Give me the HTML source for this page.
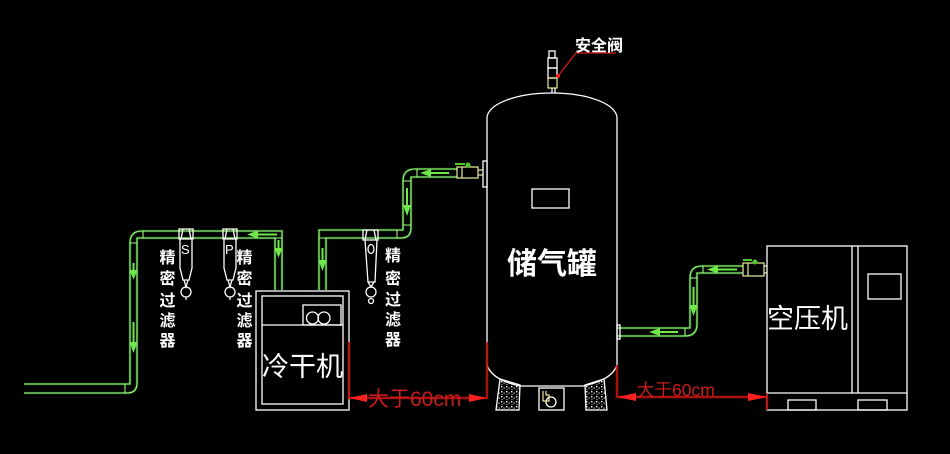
<!DOCTYPE html>
<html><head><meta charset="utf-8"><style>
html,body{margin:0;padding:0;background:#000;}
svg{display:block;}
</style></head><body>
<svg width="950" height="454" viewBox="0 0 950 454" xmlns="http://www.w3.org/2000/svg">
<defs>
<pattern id="dots" width="5" height="5" patternUnits="userSpaceOnUse">
<rect x="1" y="1" width="1.4" height="1.4" fill="#fff"/>
<rect x="3.5" y="2.5" width="1.2" height="1.2" fill="#ddd"/>
<rect x="1.5" y="4" width="1" height="1" fill="#bbb"/>
</pattern>
</defs>
<rect width="950" height="454" fill="#000"/>

<!-- ===== GREEN PIPES (glow underlay) ===== -->
<g fill="none" stroke="#2f8a1e" stroke-width="2.6" opacity="0.6">
<path d="M24,384 H130 V243 Q130,231 142,231 H282 V290"/>
<path d="M24,393 H127 Q137,393 137,383 V238 H275 V290"/>
<path d="M319,290 V230 H403 V181 Q403,169 415,169 H457"/>
<path d="M326,290 V238 H401 Q411,238 411,228 V177 H457"/>
<path d="M617,328 H690 V278 Q690,266 702,266 H743"/>
<path d="M617,336 H685 Q697,336 697,324 V273 H743"/>
</g>
<g fill="none" stroke="#a0f884" stroke-width="1.1">
<path d="M24,384 H130 V243 Q130,231 142,231 H282 V290"/>
<path d="M24,393 H127 Q137,393 137,383 V238 H275 V290"/>
<path d="M319,290 V230 H403 V181 Q403,169 415,169 H457"/>
<path d="M326,290 V238 H401 Q411,238 411,228 V177 H457"/>
<path d="M617,328 H690 V278 Q690,266 702,266 H743"/>
<path d="M617,336 H685 Q697,336 697,324 V273 H743"/>
<!-- joint ticks -->
<path d="M125,384 V393 M130,243 H137 M143,231 V238 M275,238 H282"/>
<path d="M319,238 H326 M397,230 V238 M403,225 H411 M403,181 H411 M417,169 V177"/>
<path d="M685,328 V336 M690,278 H697 M703,266 V273"/>
</g>
<!-- pipe arrows -->
<g stroke="#6fe84a" stroke-width="2" fill="#6fe84a">
<line x1="256" y1="234.5" x2="277" y2="234.5"/><polygon points="250,234.5 257,232 257,237"/>
<line x1="278.5" y1="240" x2="278.5" y2="250"/><polygon points="278.5,255 276,249 281,249"/>
<line x1="133.5" y1="263" x2="133.5" y2="272"/><polygon points="133.5,277 131,271 136,271"/>
<line x1="133.5" y1="322" x2="133.5" y2="344"/><polygon points="133.5,350 131,343 136,343"/>
<line x1="322.5" y1="248" x2="322.5" y2="262"/><polygon points="322.5,268 320,261 325,261"/>
<line x1="429" y1="173" x2="449" y2="173"/><polygon points="423,173 430,170.5 430,175.5"/>
<line x1="407" y1="188" x2="407" y2="207"/><polygon points="407,213 404.5,206 409.5,206"/>
<line x1="716" y1="269.5" x2="737" y2="269.5"/><polygon points="710,269.5 717,267 717,272"/>
<line x1="693.5" y1="287" x2="693.5" y2="307"/><polygon points="693.5,313 691,306 696,306"/>
<line x1="658" y1="332" x2="678" y2="332"/><polygon points="652,332 659,329.5 659,334.5"/>
</g>

<!-- ===== VALVES ===== -->
<g fill="none" stroke="#ecec9c" stroke-width="1.2">
<rect x="457" y="167" width="21" height="11"/>
<line x1="462" y1="167" x2="462" y2="178"/>
<line x1="478" y1="170" x2="483" y2="170"/><line x1="478" y1="175" x2="483" y2="175"/>
<rect x="743" y="263" width="21" height="13"/>
<line x1="748" y1="263" x2="748" y2="276"/>
<line x1="764" y1="266" x2="767" y2="266"/><line x1="764" y1="273" x2="767" y2="273"/>
</g>
<g stroke="#4fc82e" stroke-width="2" fill="#4fc82e">
<line x1="455" y1="164" x2="465" y2="164"/><circle cx="468" cy="165" r="1.5"/>
<line x1="743" y1="260" x2="752" y2="260"/><circle cx="755" cy="262" r="1.5"/>
</g>

<!-- ===== WHITE LINEWORK ===== -->
<g fill="none" stroke="#fff" stroke-width="1.3">
<!-- tank -->
<path d="M487,365 V118 A65,25 0 0 1 617,118 V365"/>
<path d="M487,365 Q492,380 520,386 H583 Q612,380 617,365"/>
<rect x="532" y="189" width="37" height="19"/>
<rect x="483" y="161" width="4" height="26" fill="#000"/>
<rect x="617" y="325" width="3" height="14"/>
<!-- safety valve -->
<rect x="549" y="51" width="6" height="7"/>
<rect x="548" y="58" width="9" height="10"/>
<rect x="548" y="68" width="9" height="10"/>
<line x1="552" y1="88" x2="552" y2="93"/><line x1="555" y1="88" x2="555" y2="93"/>
<!-- dryer -->
<rect x="256" y="291" width="93" height="119"/>
<rect x="262" y="296" width="81" height="108"/>
<line x1="262" y1="325" x2="343" y2="325"/>
<rect x="303" y="305" width="38" height="20"/>
<circle cx="312.5" cy="318" r="6"/><circle cx="324" cy="318" r="6"/>
<!-- compressor -->
<rect x="767" y="246" width="140" height="164"/>
<line x1="852" y1="246" x2="852" y2="393"/><line x1="858" y1="246" x2="858" y2="393"/>
<line x1="767" y1="393" x2="907" y2="393"/>
<rect x="788" y="400" width="28" height="10"/>
<rect x="858" y="400" width="29" height="10"/>
<rect x="868" y="274" width="33" height="25"/>
<!-- filters S & P -->
<path d="M179,229 H193 V239 H179 Z M183,229 L181,239 M189,229 L191,239"/>
<path d="M180,239 V268 L183,280 H189 L192,268 V239"/>
<path d="M184,280 L186,287 L188,280"/><circle cx="186" cy="292" r="5"/><line x1="186" y1="297" x2="186" y2="300"/>
<path d="M223,229 H237 V239 H223 Z M227,229 L225,239 M233,229 L235,239"/>
<path d="M224,239 V268 L227,280 H233 L236,268 V239"/>
<path d="M228,280 L230,287 L232,280"/><circle cx="230" cy="292" r="5"/><line x1="230" y1="297" x2="230" y2="300"/>
<!-- filter 3 -->
<path d="M363,230 H378 V240 H363 Z M367,230 L365,240 M374,230 L376,240"/>
<path d="M365,240 L368,282 H375 L377,240"/>
<ellipse cx="371" cy="249" rx="3" ry="4.5"/>
<path d="M368,282 L371,287 L374,282"/><circle cx="371" cy="292" r="5"/><circle cx="371" cy="301" r="2.5"/>
<!-- legs -->
<polygon points="500,379 520,385 519,410 496,410" fill="url(#dots)"/>
<polygon points="585,385 604,379 607,410 586,410" fill="url(#dots)"/>
<rect x="539" y="388" width="25" height="22"/>
<circle cx="551" cy="402" r="5"/>
</g>
<g fill="none" stroke="#ecec9c" stroke-width="1.2">
<rect x="548" y="78" width="9" height="10"/>
<path d="M543,391 V401 H549 V395 H546 V391"/>
</g>
<g fill="#fff" font-family="'Liberation Sans', sans-serif" font-size="13">
<text x="181" y="254">S</text>
<text x="225" y="254">P</text>
</g>

<!-- ===== RED DIMENSIONS ===== -->
<g stroke="#8a0a0a" stroke-width="3" fill="none" opacity="0.6">
<path d="M349,342 V398 H487 V342 M617,365 V397 H767 V410"/>
</g>
<g stroke="#e01818" stroke-width="1.2" fill="none">
<path d="M349,342 V398 H487 V342 M617,365 V397 H767 V393 V410"/>
<path d="M558,76 L576,53 H616"/>
</g>
<g fill="#ff2020">
<polygon points="349,398 367,394 367,402"/>
<polygon points="487,398 469,394 469,402"/>
<polygon points="617,397 636,393 636,401"/>
<polygon points="767,397 748,393 748,401"/>
<circle cx="558" cy="76" r="2"/>
</g>
<text x="368" y="406" fill="#c81c1c" font-family="'Liberation Sans','Noto Sans CJK SC',sans-serif" font-size="21">大于60cm</text>
<text x="637" y="396" fill="#c81c1c" font-family="'Liberation Sans','Noto Sans CJK SC',sans-serif" font-size="17.5">大于60cm</text>

<!-- ===== WHITE LABELS ===== -->
<g fill="#fff" font-family="'Liberation Sans','Noto Sans CJK SC',sans-serif">
<text x="575" y="51" font-size="16" font-weight="bold">安全阀</text>
<text x="507" y="274" font-size="30" font-weight="bold">储气罐</text>
<text x="262" y="376" font-size="27">冷干机</text>
<text x="767" y="328" font-size="27">空压机</text>
</g>
<g fill="#fff" font-family="'Liberation Sans','Noto Sans CJK SC',sans-serif" font-size="16" font-weight="bold" text-anchor="middle">
<text x="167.5" y="263">精</text><text x="167.5" y="284">密</text><text x="167.5" y="306">过</text><text x="167.5" y="326">滤</text><text x="167.5" y="346">器</text>
<text x="244.5" y="263">精</text><text x="244.5" y="284">密</text><text x="244.5" y="306">过</text><text x="244.5" y="326">滤</text><text x="244.5" y="346">器</text>
<text x="393" y="261">精</text><text x="393" y="284">密</text><text x="393" y="305">过</text><text x="393" y="325">滤</text><text x="393" y="345">器</text>
</g>
</svg>
</body></html>
